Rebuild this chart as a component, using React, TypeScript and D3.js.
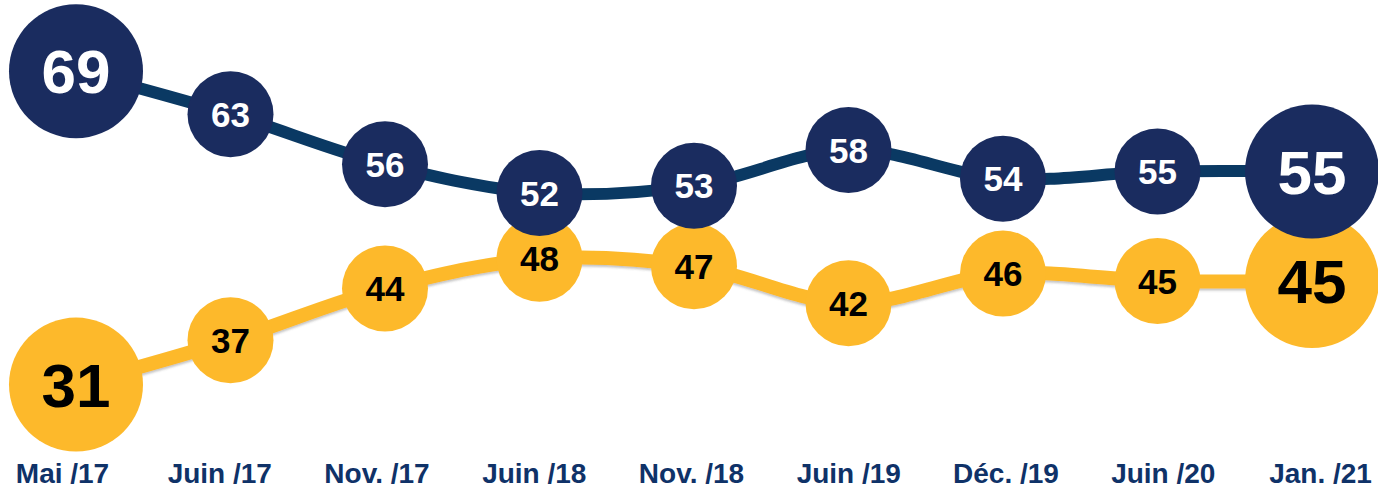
import { useEffect, useRef } from 'react';
import * as d3 from 'd3';

const periods = ['Mai /17', 'Juin /17', 'Nov. /17', 'Juin /18', 'Nov. /18', 'Juin /19', 'Déc. /19', 'Juin /20', 'Jan. /21'];
const blueValues = [69, 63, 56, 52, 53, 58, 54, 55, 55];
const yellowValues = [31, 37, 44, 48, 47, 42, 46, 45, 45];

const W = 1378;
const H = 490;

const App = () => {
  const svgRef = useRef<SVGSVGElement>(null);

  useEffect(() => {
    const svg = d3.select(svgRef.current);
    svg.selectAll('*').remove();

    const x = d3.scalePoint<string>().domain(periods).range([76, 1312]);
    const xLabel = d3.scalePoint<string>().domain(periods).range([62, 1320]);

    // each series sits on its own band, same scale factor
    const yBlue = d3.scaleLinear().domain([40, 70]).range([279, 64]);
    const yYellow = d3.scaleLinear().domain([30, 50]).range([392, 244]);

    const defs = svg.append('defs');
    const f = defs.append('filter').attr('id', 'shadow').attr('x', '-5%').attr('y', '-20%').attr('width', '110%').attr('height', '140%');
    f.append('feDropShadow').attr('dx', 0).attr('dy', 2).attr('stdDeviation', 1.2).attr('flood-color', '#555').attr('flood-opacity', 0.35);

    const series = [
      { values: yellowValues, y: yYellow, line: '#fdb92b', fill: '#fdb92b', text: '#000', shadow: true, width: 14 },
      { values: blueValues, y: yBlue, line: '#0a3963', fill: '#1a2c5f', text: '#fff', shadow: false, width: 12 },
    ];

    series.forEach((s) => {
      const pts = s.values.map((v, i) => ({ p: periods[i], v, i }));
      const line = d3
        .line<{ p: string; v: number }>()
        .x((d) => x(d.p)!)
        .y((d) => s.y(d.v))
        .curve(d3.curveCatmullRom.alpha(0.5));

      svg
        .append('path')
        .attr('d', line(pts))
        .attr('fill', 'none')
        .attr('stroke', s.line)
        .attr('stroke-width', s.width)
        .attr('filter', s.shadow ? 'url(#shadow)' : null);

      const last = pts.length - 1;
      const g = svg
        .selectAll(null)
        .data(pts)
        .enter()
        .append('g')
        .attr('transform', (d) => `translate(${x(d.p)},${s.y(d.v)})`);

      g.append('circle')
        .attr('r', (d) => (d.i === 0 || d.i === last ? 67 : 43))
        .attr('fill', s.fill);

      g.append('text')
        .attr('text-anchor', 'middle')
        .attr('dy', '0.36em')
        .attr('fill', s.text)
        .attr('font-family', '"Liberation Sans", Arial, sans-serif')
        .attr('font-weight', 'bold')
        .attr('font-size', (d) => (d.i === 0 || d.i === last ? 62 : 35))
        .text((d) => d.v);
    });

    const axis = svg
      .append('g')
      .attr('transform', `translate(0, ${H - 27})`)
      .call(d3.axisBottom(xLabel).tickSize(0).tickPadding(0));
    axis.select('.domain').remove();
    axis
      .selectAll('text')
      .attr('dy', '0.71em')
      .attr('fill', '#0f3268')
      .attr('font-family', '"Liberation Sans", Arial, sans-serif')
      .attr('font-weight', 'bold')
      .attr('font-size', 28);
  }, []);

  return (
    <svg
      ref={svgRef}
      width={W}
      height={H}
      style={{ position: 'absolute', left: 0, top: 0, background: '#fff' }}
    />
  );
};

export default App;
